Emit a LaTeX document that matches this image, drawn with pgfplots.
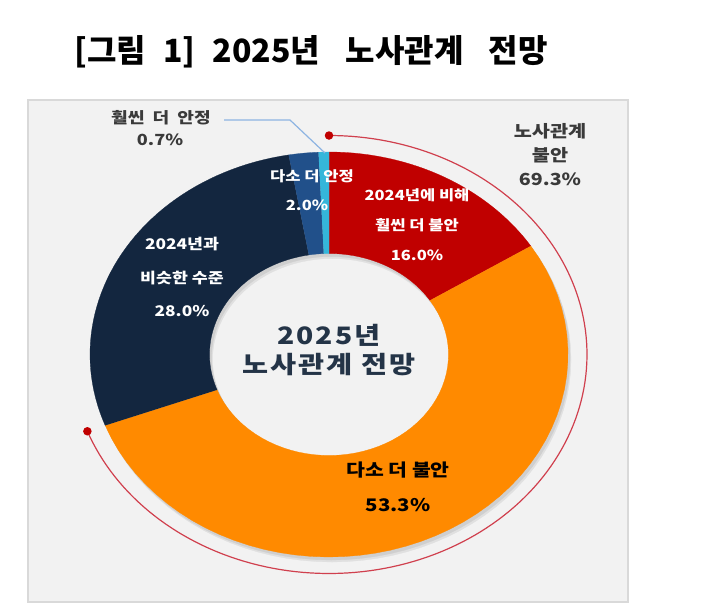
\documentclass[border=0pt]{standalone}
\usepackage{pgfplots}
\pgfplotsset{compat=1.18}
\usepackage{pgfplotstable}
\usepackage{fontspec}
\setmainfont{Noto Sans CJK KR}
\newfontfamily\st{Noto Sans CJK KR}[FakeStretch=1.18]
\newfontfamily\stw{Noto Sans CJK KR}[FakeStretch=1.18, LetterSpace=8]
\definecolor{cRed}{HTML}{C00000}
\definecolor{cOrange}{HTML}{FF8A00}
\definecolor{cNavy}{HTML}{13263F}
\definecolor{cMid}{HTML}{21508A}
\definecolor{cLight}{HTML}{35B6DA}
\definecolor{bg}{HTML}{F2F2F2}
\definecolor{bd}{HTML}{D9D9D9}
\definecolor{arcred}{HTML}{D0404E}
\definecolor{lead}{HTML}{8DB4E2}
\definecolor{ctext}{HTML}{243447}
\definecolor{ltext}{HTML}{3A3A3A}
\definecolor{shadow}{HTML}{CFCFCF}

% shares (percent), clockwise from 12 o'clock
\pgfplotstableread{
label share
r 16.0
o 53.3
n 28.0
m 2.0
l 0.7
}\shares
\pgfplotstablegetelem{0}{share}\of\shares \let\sR\pgfplotsretval
\pgfplotstablegetelem{1}{share}\of\shares \let\sO\pgfplotsretval
\pgfplotstablegetelem{2}{share}\of\shares \let\sN\pgfplotsretval
\pgfplotstablegetelem{3}{share}\of\shares \let\sM\pgfplotsretval
\pgfplotstablegetelem{4}{share}\of\shares \let\sL\pgfplotsretval
\pgfmathsetmacro\aA{90}
\pgfmathsetmacro\aB{\aA-3.6*\sR}
\pgfmathsetmacro\aC{\aB-3.6*\sO}
\pgfmathsetmacro\aD{\aC-3.6*\sN}
\pgfmathsetmacro\aE{\aD-3.6*\sM}
\pgfmathsetmacro\aF{\aE-3.6*\sL}
\pgfmathsetmacro\aU{90-3.6*(\sR+\sO)}

\def\cx{329}\def\cy{354.5}
\def\Rx{239}\def\Ry{202.5}\def\rx{119.5}\def\ry{101}

% ring sector: #1 start angle, #2 end angle, #3 colour, #4 x shift, #5 y shift
\newcommand\sector[5]{%
\addplot[fill=#3, draw=#3, line width=0.2pt, samples at={0,1,...,100}, variable=\t]
 ({#4+\cx + (\t<=50 ? \Rx : \rx)*cos(\t<=50 ? (#1+(#2-(#1))*\t/50) : (#2-(#2-(#1))*(\t-51)/49))},
  {#5+\cy - (\t<=50 ? \Ry : \ry)*sin(\t<=50 ? (#1+(#2-(#1))*\t/50) : (#2-(#2-(#1))*(\t-51)/49))});
}

\begin{document}
\begin{tikzpicture}
\begin{axis}[
  width=532.5pt, height=460.5pt, scale only axis,
  xmin=0, xmax=710, ymin=0, ymax=614, y dir=reverse,
  hide axis, clip=false]
% page and panel
\addplot[fill=white, draw=none] coordinates {(0,0) (710,0) (710,614) (0,614)} -- cycle;
\addplot[fill=bg, draw=bd, line width=1.5pt] coordinates {(28,100) (628,100) (628,602) (28,602)} -- cycle;
% soft shadow
\sector{90}{-90}{shadow!50!bg}{3}{5}
\sector{-90}{-270}{shadow!50!bg}{3}{5}
\sector{90}{-90}{shadow}{2}{3}
\sector{-90}{-270}{shadow}{2}{3}
% donut
\sector{\aA}{\aB}{cRed}{0}{0}
\sector{\aB}{\aC}{cOrange}{0}{0}
\sector{\aC}{\aD}{cNavy}{0}{0}
\sector{\aD}{\aE}{cMid}{0}{0}
\sector{\aE}{\aF}{cLight}{0}{0}
% bracket arc for 69.3%
\addplot[domain=\aU:90, samples=150, draw=arcred, line width=0.9pt,
  mark=*, mark indices={1,150}, mark size=2.7pt, mark options={fill=cRed, draw=cRed}]
  ({\cx+258*cos(x)},{\cy-219*sin(x)});
% leader line
\addplot[draw=lead, line width=0.9pt] coordinates {(224,120) (290,120) (325,153)};
% labels
\node[font=\fontsize{24}{28}\selectfont\bfseries] at (axis cs:311,52) {[그림\hspace{13pt}1]\hspace{13pt}2025년\hspace{19pt}노사관계\hspace{19pt}전망};
\node[font=\st\fontsize{11.5}{13}\selectfont\bfseries, text=ltext] at (axis cs:161,118) {훨씬\hspace{3pt} 더\hspace{3pt} 안정};
\node[font=\st\fontsize{11.5}{13}\selectfont\bfseries, text=ltext] at (axis cs:160,140) {0.7\%};
\node[font=\st\fontsize{12.5}{18}\selectfont\bfseries, text=ltext, align=center] at (axis cs:550,155) {노사관계\\불안\\69.3\%};
\node[font=\st\fontsize{10.5}{22.5}\selectfont\bfseries, text=white, align=center] at (axis cs:417,225) {2024년에 비해\\훨씬 더 불안\\16.0\%};
\node[font=\st\fontsize{10.5}{21}\selectfont\bfseries, text=white] at (axis cs:312,176) {다소 더 안정};
\node[font=\st\fontsize{10.5}{21}\selectfont\bfseries, text=white] at (axis cs:307,205) {2.0\%};
\node[font=\st\fontsize{11}{25}\selectfont\bfseries, text=white, align=center] at (axis cs:182,277) {2024년과\\비슷한 수준\\28.0\%};
\node[font=\stw\fontsize{18}{21.5}\selectfont\bfseries, text=ctext, align=center] at (axis cs:329,350) {2025년\\노사관계 전망};
\node[font=\st\fontsize{13}{26}\selectfont\bfseries, text=black, align=center] at (axis cs:398,487) {다소 더 불안\\53.3\%};
\end{axis}
\end{tikzpicture}
\end{document}
